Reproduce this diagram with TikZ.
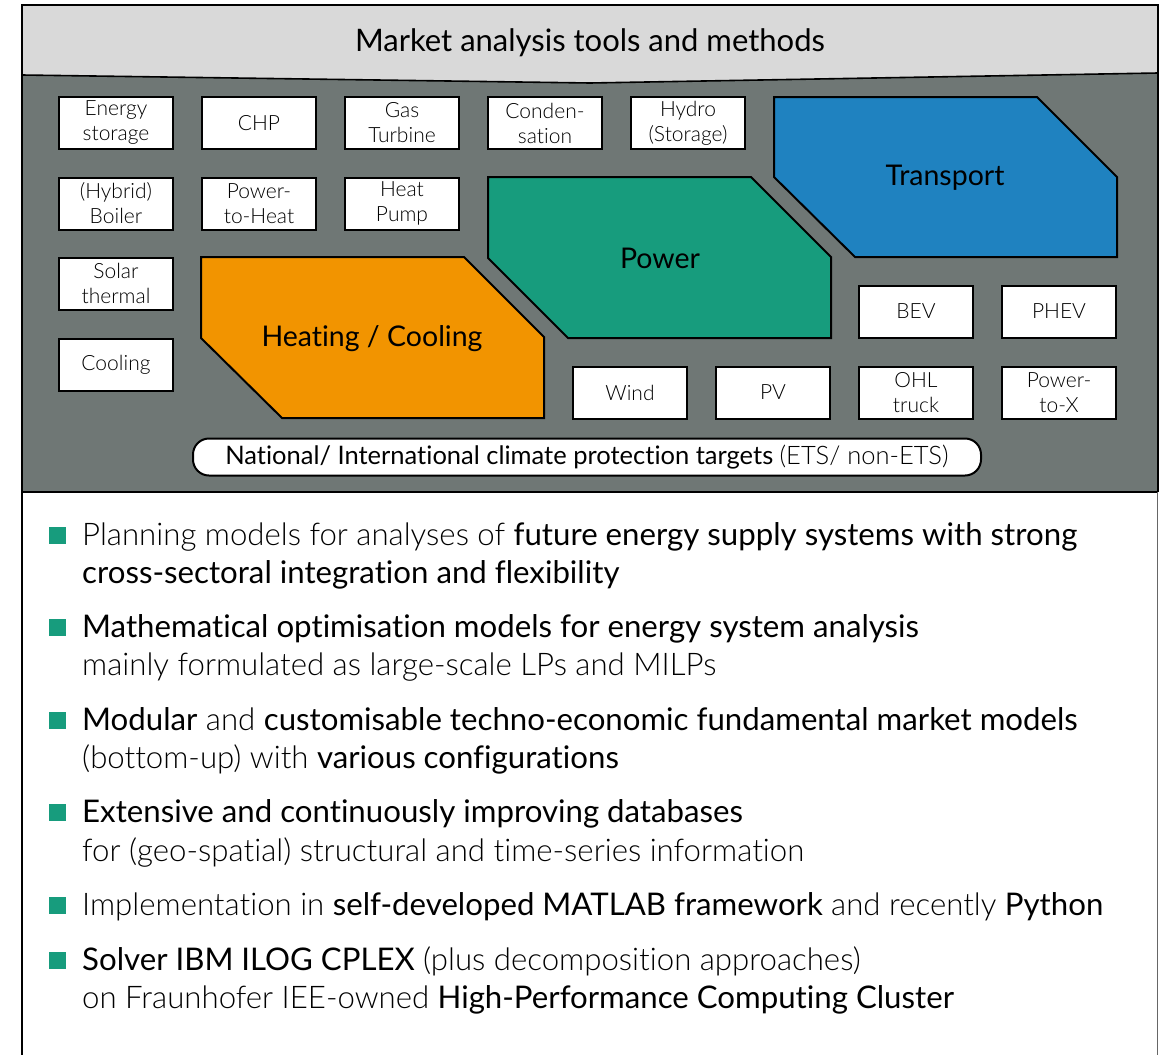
\documentclass[tikz,border=0pt]{standalone}
\usepackage{fontspec}
\defaultfontfeatures{RawFeature={-liga;-clig;-calt;-dlig}}
\setmainfont{Lato}
\newfontfamily\regfont{Lato}
\IfFontExistsTF{Lato Light}{\newfontfamily\lightfont{Lato Light}}{%
  \IfFontExistsTF{Fira Sans Light}{\newfontfamily\lightfont{Fira Sans Light}}{\newfontfamily\lightfont{Lato}}}
\newcommand{\hilite}[1]{{\regfont #1}}

\definecolor{panelgrey}{RGB}{111,119,117}
\definecolor{bannergrey}{RGB}{217,217,217}
\definecolor{heatorange}{RGB}{242,148,0}
\definecolor{powergreen}{RGB}{23,156,125}
\definecolor{transblue}{RGB}{31,130,192}

\tikzset{
  tech/.style={draw=black, line width=2pt, fill=white, minimum width=114,
    minimum height=52, inner sep=0pt, align=center,
    font=\lightfont\fontsize{21}{25}\selectfont},
  sector/.style={draw=black, line width=2pt, line join=miter},
  sectorlabel/.style={font=\regfont\fontsize{28.5}{32}\selectfont, inner sep=0pt},
  bulletsq/.style={fill=powergreen, minimum size=17, inner sep=0pt},
  bodytext/.style={anchor=base west, inner sep=0pt,
    font=\lightfont\fontsize{31.2}{38}\selectfont},
}

\begin{document}
\begin{tikzpicture}[x=1pt, y=-1pt]
\useasboundingbox (0,0) rectangle (1161,1055);

% dark panel and header banner
\fill[panelgrey] (22,70) rectangle (1158,492);
\draw[black, line width=1.4pt] (22,492) -- (1158,492);
\draw[fill=bannergrey, line width=1.6pt] (22,5) -- (1158,5) -- (1158,73) -- (590,83) -- (22,75) -- cycle;
\node[font=\regfont\fontsize{31}{34}\selectfont, inner sep=0pt] (title) at (590,43) {Market analysis tools and methods};

% outer frame
\draw[black, line width=1.4pt] (22,5) -- (22,1055);
\draw[black, line width=1.4pt] (1158,5) -- (1158,492);
\draw[black!60, line width=0.9pt] (1157,492) -- (1157,1055);

% sector shapes
\draw[sector, fill=heatorange] (201,257) -- (464,257) -- (544,337) -- (544,418) -- (282,418) -- (201,338) -- cycle;
\draw[sector, fill=powergreen] (488,177) -- (751,177) -- (831,257) -- (831,338) -- (568,338) -- (488,258) -- cycle;
\draw[sector, fill=transblue] (774,97) -- (1037,97) -- (1117,177) -- (1117,257) -- (855,257) -- (774,177) -- cycle;
\node[sectorlabel] (heating) at (372,339) {Heating / Cooling};
\node[sectorlabel] (power) at (660,258) {Power};
\node[sectorlabel] (transport) at (945,178) {Transport};

% technology boxes
\node[tech] (storage) at (116,123) {Energy\\storage};
\node[tech] (chp) at (259,123) {CHP};
\node[tech] (gasturbine) at (402,123) {Gas\\Turbine};
\node[tech] (condensation) at (545,123) {Conden-\\sation};
\node[tech] (hydro) at (688,123) {Hydro\\(Storage)};
\node[tech] (boiler) at (116,203.5) {(Hybrid)\\Boiler};
\node[tech] (p2h) at (259,203.5) {Power-\\to-Heat};
\node[tech] (heatpump) at (402,203.5) {Heat\\Pump};
\node[tech] (solar) at (116,283.5) {Solar\\thermal};
\node[tech] (cooling) at (116,364.5) {Cooling};
\node[tech] (bev) at (916,311.5) {BEV};
\node[tech] (phev) at (1059,311.5) {PHEV};
\node[tech] (wind) at (630,392.5) {Wind};
\node[tech] (pv) at (773,392.5) {PV};
\node[tech] (ohl) at (916,392.5) {OHL\\truck};
\node[tech] (p2x) at (1059,392.5) {Power-\\to-X};

% climate targets bar
\node[draw=black, line width=2pt, fill=white, rounded corners=16pt,
  minimum width=788, minimum height=37, inner sep=0pt,
  font=\fontsize{25.5}{28}\selectfont] (targets) at (587,457)
  {\hilite{National/ International climate protection targets} {\lightfont(ETS/ non-ETS)}};

% bullet list
\node[bulletsq] (b1) at (57,535) {};
\node[bodytext] (t1a) at (82,545) {Planning models for analyses of \hilite{future energy supply systems with strong}};
\node[bodytext] (t1b) at (82,583) {\hilite{cross-sectoral integration and flexibility}};

\node[bulletsq] (b2) at (57,627) {};
\node[bodytext] (t2a) at (82,637) {\hilite{Mathematical optimisation models for energy system analysis}};
\node[bodytext] (t2b) at (82,675) {mainly formulated as large-scale LPs and MILPs};

\node[bulletsq] (b3) at (57,720) {};
\node[bodytext] (t3a) at (82,730) {\hilite{Modular} and \hilite{customisable techno-economic fundamental market models}};
\node[bodytext] (t3b) at (82,768) {(bottom-up) with \hilite{various configurations}};

\node[bulletsq] (b4) at (57,812) {};
\node[bodytext] (t4a) at (82,822) {\hilite{Extensive and continuously improving databases}};
\node[bodytext] (t4b) at (82,861) {for (geo-spatial) structural and time-series information};

\node[bulletsq] (b5) at (57,905) {};
\node[bodytext] (t5a) at (82,915) {Implementation in \hilite{self-developed MATLAB framework} and recently \hilite{Python}};

\node[bulletsq] (b6) at (57,960) {};
\node[bodytext] (t6a) at (82,970) {\hilite{Solver IBM ILOG CPLEX} (plus decomposition approaches)};
\node[bodytext] (t6b) at (82,1008) {on Fraunhofer IEE-owned \hilite{High-Performance Computing Cluster}};
\end{tikzpicture}
\end{document}
